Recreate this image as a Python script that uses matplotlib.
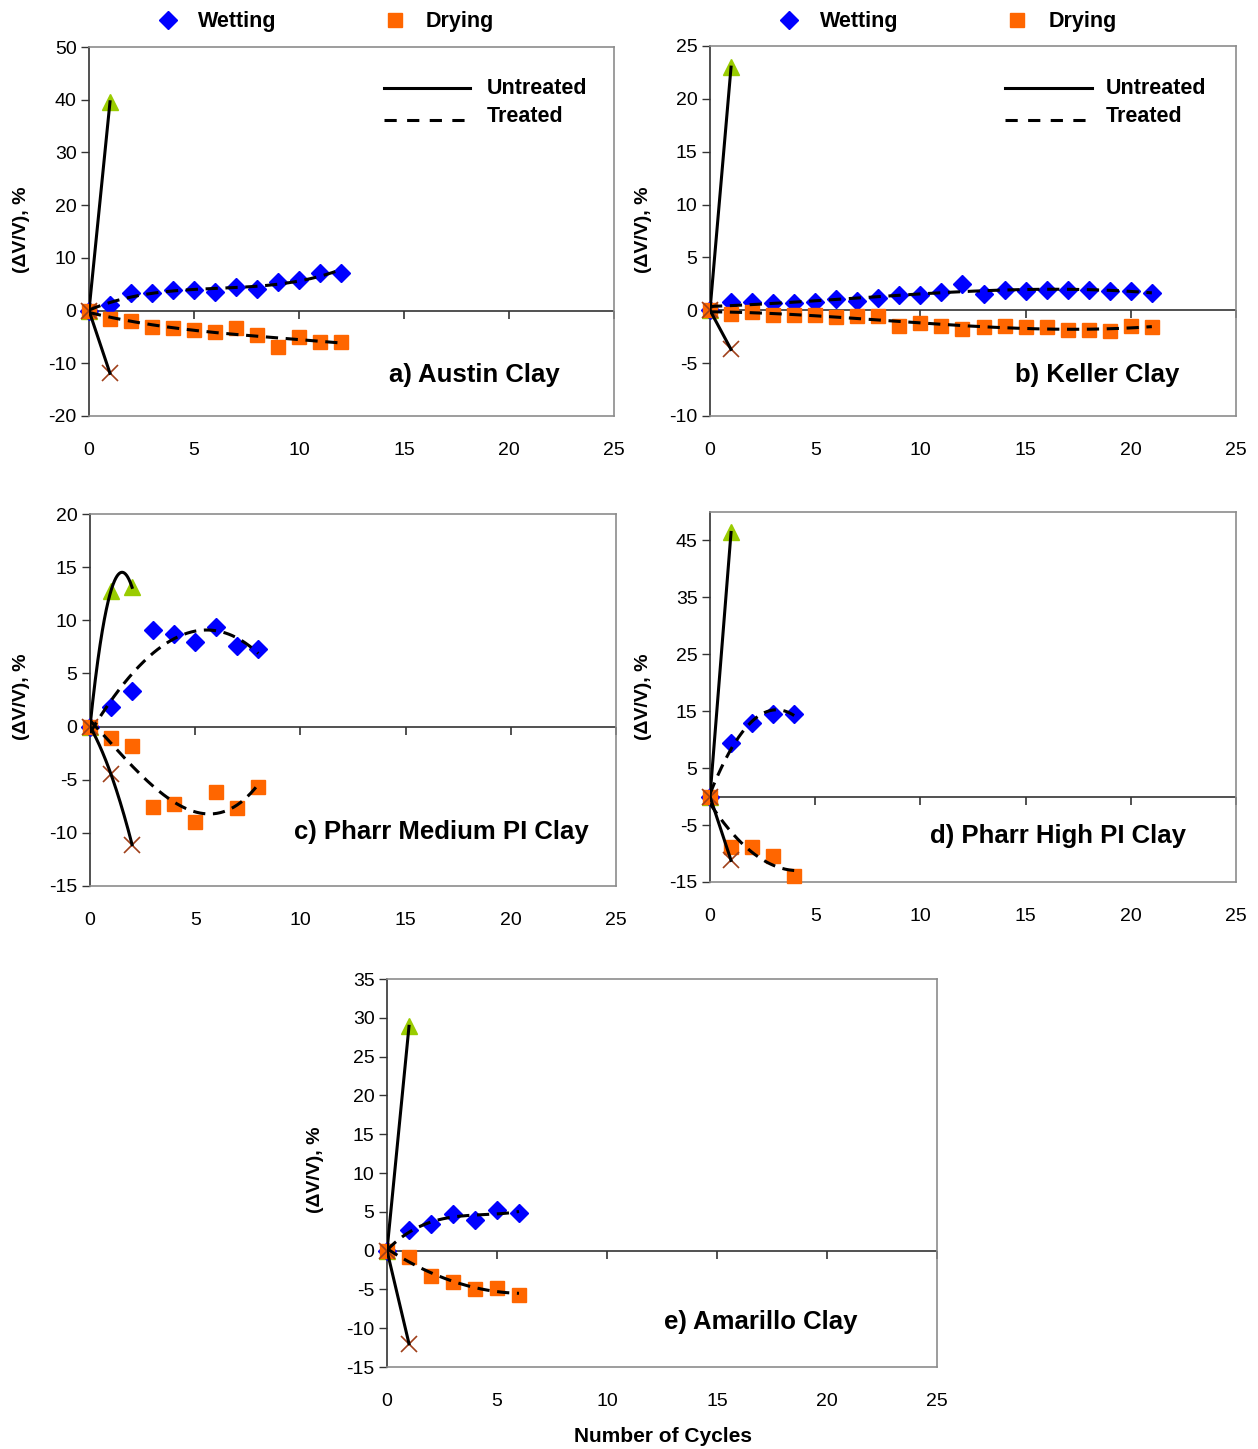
import numpy as np
import matplotlib
matplotlib.use('Agg')
import matplotlib.pyplot as plt
from matplotlib.lines import Line2D

plt.rcParams['font.family'] = ['Liberation Sans', 'DejaVu Sans']
plt.rcParams['axes.unicode_minus'] = False

W, H = 1258, 1449

# ---------------- data ----------------
# a) Austin Clay
a_cycles = list(range(0, 13))
a_wet_treated = [0, 1.1, 3.3, 3.4, 3.9, 3.9, 3.6, 4.4, 4.1, 5.4, 5.8, 7.2, 7.2]
a_dry_treated = [0, -1.6, -2.0, -3.1, -3.4, -3.6, -4.1, -3.3, -4.6, -6.9, -5.1, -5.9, -5.9]
a_unt_cycles = [0, 1]
a_wet_untreated = [0, 39.6]
a_dry_untreated = [0, -11.9]

# b) Keller Clay
b_cycles = list(range(0, 22))
b_wet_treated = [0, 0.8, 0.8, 0.66, 0.69, 0.79, 1.07, 0.91, 1.17, 1.45, 1.45, 1.7,
                 2.5, 1.58, 1.96, 1.8, 1.96, 1.96, 1.96, 1.83, 1.83, 1.67]
b_dry_treated = [0, -0.35, -0.19, -0.47, -0.44, -0.44, -0.66, -0.5, -0.5, -1.5, -1.2,
                 -1.45, -1.73, -1.6, -1.45, -1.6, -1.6, -1.83, -1.83, -2.0, -1.45, -1.6]
b_unt_cycles = [0, 1]
b_wet_untreated = [0, 23.0]
b_dry_untreated = [0, -3.7]

# c) Pharr Medium PI Clay
c_cycles = list(range(0, 9))
c_wet_treated = [0, 1.8, 3.3, 9.1, 8.7, 8.0, 9.4, 7.6, 7.3]
c_dry_treated = [0, -1.1, -1.8, -7.6, -7.3, -9.0, -6.2, -7.7, -5.7]
c_unt_cycles = [0, 1, 2]
c_wet_untreated = [0, 12.8, 13.1]
c_dry_untreated = [0, -4.5, -11.1]

# d) Pharr High PI Clay
d_cycles = [0, 1, 2, 3, 4]
d_wet_treated = [0, 9.4, 12.9, 14.6, 14.6]
d_dry_treated = [0, -8.9, -8.9, -10.5, -13.9]
d_unt_cycles = [0, 1]
d_wet_untreated = [0, 46.4]
d_dry_untreated = [0, -11.2]

# e) Amarillo Clay
e_cycles = [0, 1, 2, 3, 4, 5, 6]
e_wet_treated = [0, 2.6, 3.4, 4.7, 4.0, 5.2, 4.9]
e_dry_treated = [0, -0.8, -3.3, -4.0, -5.0, -4.8, -5.7]
e_unt_cycles = [0, 1]
e_wet_untreated = [0, 28.9]
e_dry_untreated = [0, -12.0]

x_ticks = [0, 5, 10, 15, 20, 25]

panels = [
    dict(name='a) Austin Clay', box=(89, 614, 47, 416), ylim=(-20, 50), yticks=list(range(-20, 51, 10)),
         cyc=a_cycles, wt=a_wet_treated, dt=a_dry_treated, ucyc=a_unt_cycles, wu=a_wet_untreated,
         du=a_dry_untreated, deg=3, udeg=1, title_xy=(474, 375), ylab_xy=(22, 230)),
    dict(name='b) Keller Clay', box=(710, 1236, 46, 416), ylim=(-10, 25), yticks=list(range(-10, 26, 5)),
         cyc=b_cycles, wt=b_wet_treated, dt=b_dry_treated, ucyc=b_unt_cycles, wu=b_wet_untreated,
         du=b_dry_untreated, deg=3, udeg=1, title_xy=(1097, 375), ylab_xy=(643, 230)),
    dict(name='c) Pharr Medium PI Clay', box=(90, 616, 514, 886), ylim=(-15, 20), yticks=list(range(-15, 21, 5)),
         cyc=c_cycles, wt=c_wet_treated, dt=c_dry_treated, ucyc=c_unt_cycles, wu=c_wet_untreated,
         du=c_dry_untreated, deg=3, udeg=2, title_xy=(441, 832), ylab_xy=(22, 697)),
    dict(name='d) Pharr High PI Clay', box=(710, 1236, 512, 882), ylim=(-15, 50), yticks=list(range(-15, 46, 10)),
         cyc=d_cycles, wt=d_wet_treated, dt=d_dry_treated, ucyc=d_unt_cycles, wu=d_wet_untreated,
         du=d_dry_untreated, deg=2, udeg=1, title_xy=(1058, 836), ylab_xy=(643, 697)),
    dict(name='e) Amarillo Clay', box=(387, 937, 979, 1367), ylim=(-15, 35), yticks=list(range(-15, 36, 5)),
         cyc=e_cycles, wt=e_wet_treated, dt=e_dry_treated, ucyc=e_unt_cycles, wu=e_wet_untreated,
         du=e_dry_untreated, deg=3, udeg=1, title_xy=(761, 1322), ylab_xy=(316, 1170)),
]

BLUE = '#0000FF'
ORANGE = '#FF6600'
GREEN = '#99CC00'
BROWN = '#A0401A'
GREY = '#8C8C8C'

fig = plt.figure(figsize=(W / 100, H / 100), dpi=100)


def fx(px):
    return px / W


def fy(py):
    return 1 - py / H


dash = (0, (4, 2.5))

for p in panels:
    l, r, t, b = p['box']
    ax = fig.add_axes([fx(l), fy(b), (r - l) / W, (b - t) / H])
    ax.set_xlim(0, 25)
    ax.set_ylim(*p['ylim'])
    ax.set_yticks(p['yticks'])
    ax.set_xticks(x_ticks)
    ax.tick_params(axis='x', length=0, pad=19, labelsize=14)
    ax.tick_params(axis='y', direction='out', length=6, width=1, pad=3, labelsize=14, color='#333333')
    for s in ['top', 'right', 'bottom']:
        ax.spines[s].set_color(GREY)
        ax.spines[s].set_linewidth(1.2)
    ax.spines['left'].set_color('#333333')
    ax.spines['left'].set_linewidth(1.2)
    ax.axhline(0, color='#333333', lw=1.2, zorder=1)
    ax.plot(x_ticks[1:], [0] * (len(x_ticks) - 1), linestyle='none', marker=3, ms=6, mew=1.2,
            color='#333333', clip_on=False, zorder=1)

    cyc = np.array(p['cyc'], float)
    wt = np.array(p['wt'], float)
    dt = np.array(p['dt'], float)
    ucyc = np.array(p['ucyc'], float)
    wu = np.array(p['wu'], float)
    du = np.array(p['du'], float)

    # markers
    ax.plot(ucyc, wu, linestyle='none', marker='^', ms=12, color=GREEN, zorder=3, clip_on=False)
    ax.plot(cyc, wt, linestyle='none', marker='D', ms=9.5, color=BLUE, zorder=3, clip_on=False)
    ax.plot(cyc, dt, linestyle='none', marker='s', ms=10.5, color=ORANGE, zorder=3, clip_on=False)
    ax.plot(ucyc, du, linestyle='none', marker='x', ms=12, mew=1.2, color=BROWN, zorder=3, clip_on=False)

    # trend lines (treated: dashed polynomial fits; untreated: solid)
    xs = np.linspace(cyc.min(), cyc.max(), 200)
    for ys in (wt, dt):
        coef = np.polyfit(cyc, ys, p['deg'])
        ax.plot(xs, np.polyval(coef, xs), color='black', lw=2.2, linestyle=dash, zorder=4)
    xu = np.linspace(ucyc.min(), ucyc.max(), 200)
    for ys in (wu, du):
        coef = np.polyfit(ucyc, ys, p['udeg'])
        ax.plot(xu, np.polyval(coef, xu), color='black', lw=2.2, zorder=4)

    fig.text(fx(p['title_xy'][0]), fy(p['title_xy'][1]), p['name'], ha='center', va='center',
             fontsize=18.5, fontweight='bold')
    fig.text(fx(p['ylab_xy'][0]), fy(p['ylab_xy'][1]), '(ΔV/V), %', ha='center', va='center',
             rotation=90, fontsize=14, fontweight='bold')

# top legends (Wetting / Drying) for panels a and b
for (mx_w, tx_w, mx_d, tx_d) in [(168, 198, 395, 426), (789, 820, 1017, 1049)]:
    fig.add_artist(Line2D([fx(mx_w)], [fy(20)], marker='D', ms=9, color=BLUE, linestyle='none',
                          transform=fig.transFigure))
    fig.text(fx(tx_w), fy(21), 'Wetting', ha='left', va='center', fontsize=15.5, fontweight='bold')
    fig.add_artist(Line2D([fx(mx_d)], [fy(20)], marker='s', ms=10, color=ORANGE, linestyle='none',
                          transform=fig.transFigure))
    fig.text(fx(tx_d), fy(21), 'Drying', ha='left', va='center', fontsize=15.5, fontweight='bold')

# Untreated / Treated legends
for (x0, x1, tx) in [(384, 470, 487), (1005, 1092, 1106)]:
    fig.add_artist(Line2D([fx(x0), fx(x1)], [fy(88), fy(88)], color='black', lw=2.2,
                          transform=fig.transFigure))
    fig.text(fx(tx), fy(89), 'Untreated', ha='left', va='center', fontsize=15.5, fontweight='bold')
    fig.add_artist(Line2D([fx(x0), fx(x1)], [fy(120), fy(120)], color='black', lw=2.2,
                          linestyle=(0, (4, 3.4)), transform=fig.transFigure))
    fig.text(fx(tx), fy(117), 'Treated', ha='left', va='center', fontsize=15.5, fontweight='bold')

fig.text(fx(663), fy(1437), 'Number of Cycles', ha='center', va='center', fontsize=15, fontweight='bold')

fig.savefig('out.png', dpi=100)
